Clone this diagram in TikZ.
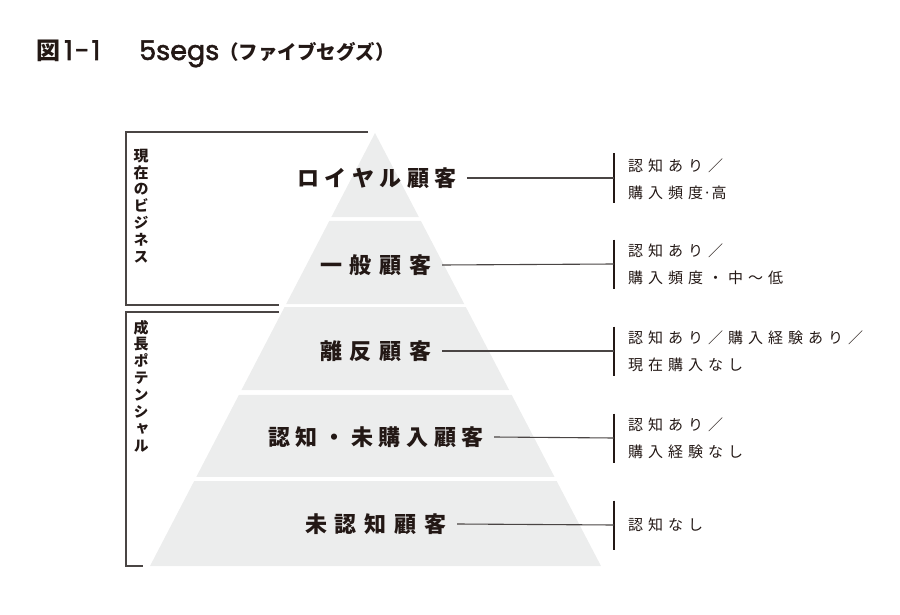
\documentclass[tikz,border=0pt]{standalone}
\usepackage{fontspec}
\setmainfont{Noto Sans CJK JP}
\newfontfamily\vfont[RawFeature=+vert]{Noto Sans CJK JP}
\newfontfamily\pop[RawFeature={embolden=2}]{Poppins}
\usetikzlibrary{calc}
\definecolor{ink}{HTML}{231815}
\definecolor{pyr}{HTML}{ECEDED}
\definecolor{rule}{HTML}{4A4544}
\def\kr{\kern5pt}
\tikzset{
  lvl/.style={font=\bfseries\fontsize{22}{24}\selectfont, text=ink, inner sep=0pt},
  desc/.style={font=\fontsize{15}{27}\selectfont, text=ink, inner sep=0pt, align=left, anchor=west},
  vtext/.style={font=\vfont\bfseries\fontsize{15}{16.9}\selectfont, text=ink, inner sep=0pt, align=center},
  conn/.style={draw=rule, line width=1.1pt},
  bar/.style={draw=ink, line width=1.1pt},
  brk/.style={draw=rule, line width=1.1pt},
  band/.style={fill=pyr, draw=none}
}
\begin{document}
\begin{tikzpicture}[x=1pt,y=-1pt]
\useasboundingbox (0,0) rectangle (900,615);
% title
\node[anchor=base west, inner sep=0pt, text=ink] (t1) at (36,60) {{\bfseries\fontsize{24}{26}\selectfont 図}{\pop\fontsize{27}{28}\selectfont\kern4pt 1\kern2pt-\kern2pt 1}};
\node[anchor=base west, inner sep=0pt, text=ink] (t2) at (139,60) {{\pop\fontsize{27}{28}\selectfont 5segs}{\bfseries\fontsize{19.5}{20}\selectfont （ファイブセグズ）}};
% pyramid
\coordinate (A) at (375,133);
\coordinate (L) at (150,566);
\coordinate (R) at (601,566);
\foreach \ta/\tb in {0/0.194, 0.203/0.395, 0.402/0.594, 0.605/0.794, 0.804/1}{
  \fill[band] ($(A)!\ta!(L)$) -- ($(A)!\tb!(L)$) -- ($(A)!\tb!(R)$) -- ($(A)!\ta!(R)$) -- cycle;
}
% brackets
\draw[brk] (368,132) -- (126,132) -- (126,305) -- (279,305);
\draw[brk] (279,312) -- (126,312) -- (126,566) -- (143,566);
\node[vtext] (v1) at (141,206) {現\\在\\の\\ビ\\ジ\\ネ\\ス};
\node[vtext] (v2) at (141,386) {成\\長\\ポ\\テ\\ン\\シ\\ャ\\ル};
% level labels
\node[lvl] (l1) at (377,178) {ロ\kern5.5pt イ\kern5.5pt ヤ\kern5.5pt ル\kern5.5pt 顧\kern5.5pt 客};
\node[lvl] (l2) at (376,265) {一\kern8pt 般\kern8pt 顧\kern8pt 客};
\node[lvl] (l3) at (376,351) {離\kern8pt 反\kern8pt 顧\kern8pt 客};
\node[lvl] (l4) at (376,437) {認\kern5.7pt 知\kern5.7pt ・\kern5.7pt 未\kern5.7pt 購\kern5.7pt 入\kern5.7pt 顧\kern5.7pt 客};
\node[lvl] (l5) at (376,524) {未\kern8pt 認\kern8pt 知\kern8pt 顧\kern8pt 客};
% bars
\foreach \i/\y in {1/178,2/264,3/351,4/438,5/525}{
  \coordinate (b\i) at (614,\y);
  \draw[bar] (614,\y-24.5) -- (614,\y+24.5);
}
% connectors
\draw[conn] ([xshift=10pt]l1.east) -- (b1);
\draw[conn] ([xshift=10pt]l2.east) -- (b2);
\draw[conn] ([xshift=10pt]l3.east) -- (b3);
\draw[conn] ([xshift=10pt]l4.east) -- (b4);
\draw[conn] ([xshift=10pt]l5.east) -- (b5);
% descriptions
\node[desc] (d1) at (628,179) {認\kr 知\kr あ\kr り\kr ／\\購\kr 入\kr 頻\kr 度·高};
\node[desc] (d2) at (628,264) {認\kr 知\kr あ\kr り\kr ／\\購\kr 入\kr 頻\kr 度\kr ・\kr 中\kr ～\kr 低};
\node[desc] (d3) at (628,351) {認\kr 知\kr あ\kr り\kr ／\kr 購\kr 入\kr 経\kr 験\kr あ\kr り\kr ／\\現\kr 在\kr 購\kr 入\kr な\kr し};
\node[desc] (d4) at (628,438) {認\kr 知\kr あ\kr り\kr ／\\購\kr 入\kr 経\kr 験\kr な\kr し};
\node[desc] (d5) at (628,525) {認\kr 知\kr な\kr し};
\end{tikzpicture}
\end{document}
